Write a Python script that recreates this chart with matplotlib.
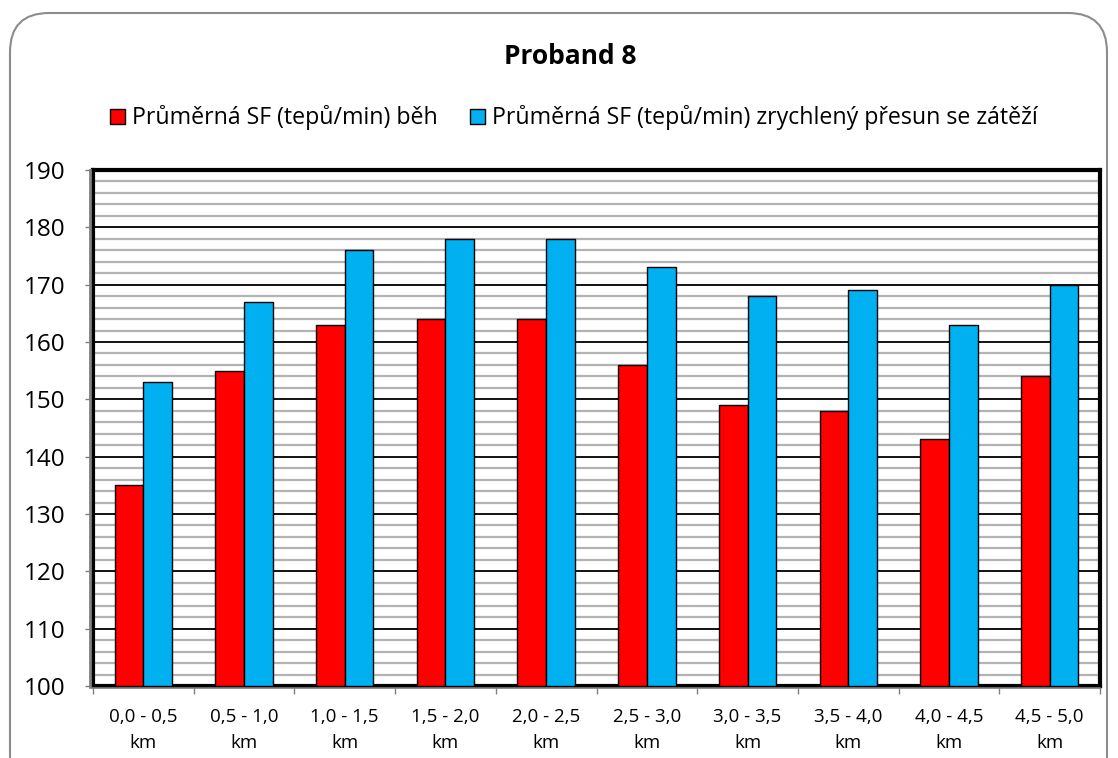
import matplotlib
matplotlib.use("Agg")
import matplotlib.pyplot as plt
import numpy as np
from matplotlib.patches import FancyBboxPatch
from matplotlib.lines import Line2D

plt.rcParams['font.family'] = ['Open Sans', 'DejaVu Sans']

categories = ["0,0 - 0,5\nkm", "0,5 - 1,0\nkm", "1,0 - 1,5\nkm", "1,5 - 2,0\nkm",
              "2,0 - 2,5\nkm", "2,5 - 3,0\nkm", "3,0 - 3,5\nkm", "3,5 - 4,0\nkm",
              "4,0 - 4,5\nkm", "4,5 - 5,0\nkm"]
beh = [135, 155, 163, 164, 164, 156, 149, 148, 143, 154]
presun = [153, 167, 176, 178, 178, 173, 168, 169, 163, 170]
series_labels = ["Průměrná SF (tepů/min) běh",
                 "Průměrná SF (tepů/min) zrychlený přesun se zátěží"]
title = "Proband 8"

fig = plt.figure(figsize=(11.18, 7.58), dpi=100)

# rounded outer frame, kept behind the axes
frame = FancyBboxPatch((10 / 1118, -0.05), 1097 / 1118, 1.03 - 13 / 758 + 0.02,
                       boxstyle="round,pad=0,rounding_size=0.035",
                       transform=fig.transFigure, facecolor="white",
                       edgecolor="#8c8c8c", linewidth=1.5, mutation_aspect=1118 / 758,
                       zorder=-5)
fig.patches.append(frame)

ax = fig.add_axes([93 / 1118, 1 - 686 / 758, (1100 - 93) / 1118, (686 - 170) / 758])
ax.set_zorder(1)
ax.set_facecolor("white")

x = np.arange(len(categories))
w = 0.285
ax.bar(x - w / 2, [v - 100 for v in beh], w, bottom=100, color="#ff0000",
       edgecolor="black", linewidth=1.0, zorder=3, label=series_labels[0])
ax.bar(x + w / 2, [v - 100 for v in presun], w, bottom=100, color="#00b0f0",
       edgecolor="black", linewidth=1.0, zorder=3, label=series_labels[1])

ax.set_xlim(-0.5, len(categories) - 0.5)
ax.set_ylim(100, 190)

# gridlines: minor every 2, major every 10
for yv in range(102, 190, 2):
    if yv % 10:
        ax.axhline(yv, color="#b3b3b3", linewidth=1.6, zorder=1)
for yv in range(110, 190, 10):
    ax.axhline(yv, color="black", linewidth=1.3, zorder=2)

ax.set_yticks(range(100, 191, 10))
ax.tick_params(axis="y", labelsize=17.5, length=6, width=1, color="#808080", pad=14)

ax.set_xticks(np.arange(-0.5, len(categories), 1.0))
ax.set_xticklabels([])
ax.set_xticks(x, minor=True)
ax.set_xticklabels(categories, minor=True, linespacing=1.55)
ax.tick_params(axis="x", which="major", length=6, width=1, color="#808080")
ax.tick_params(axis="x", which="minor", length=0, labelsize=13.5, pad=16)

for s in ax.spines.values():
    s.set_color("black")
    s.set_linewidth(3)

# grey axis lines outside the plot frame
ax.add_line(Line2D([-0.003, -0.003], [0, 1], transform=ax.transAxes, color="#7f7f7f",
                   linewidth=2, clip_on=False, zorder=6))
ax.add_line(Line2D([-0.003, 1.0], [-0.003, -0.003], transform=ax.transAxes, color="#7f7f7f",
                   linewidth=1.2, clip_on=False, zorder=6))

fig.text(570 / 1118, 1 - 57 / 758, title, ha="center", va="center", fontsize=19,
         fontweight="bold")

leg = fig.legend(loc="center", bbox_to_anchor=(574 / 1118, 1 - 118 / 758), ncol=2,
                 frameon=False, fontsize=16.7, handlelength=0.65, handleheight=0.65,
                 handletextpad=0.3, columnspacing=1.4)

fig.savefig("out.png", dpi=100)
